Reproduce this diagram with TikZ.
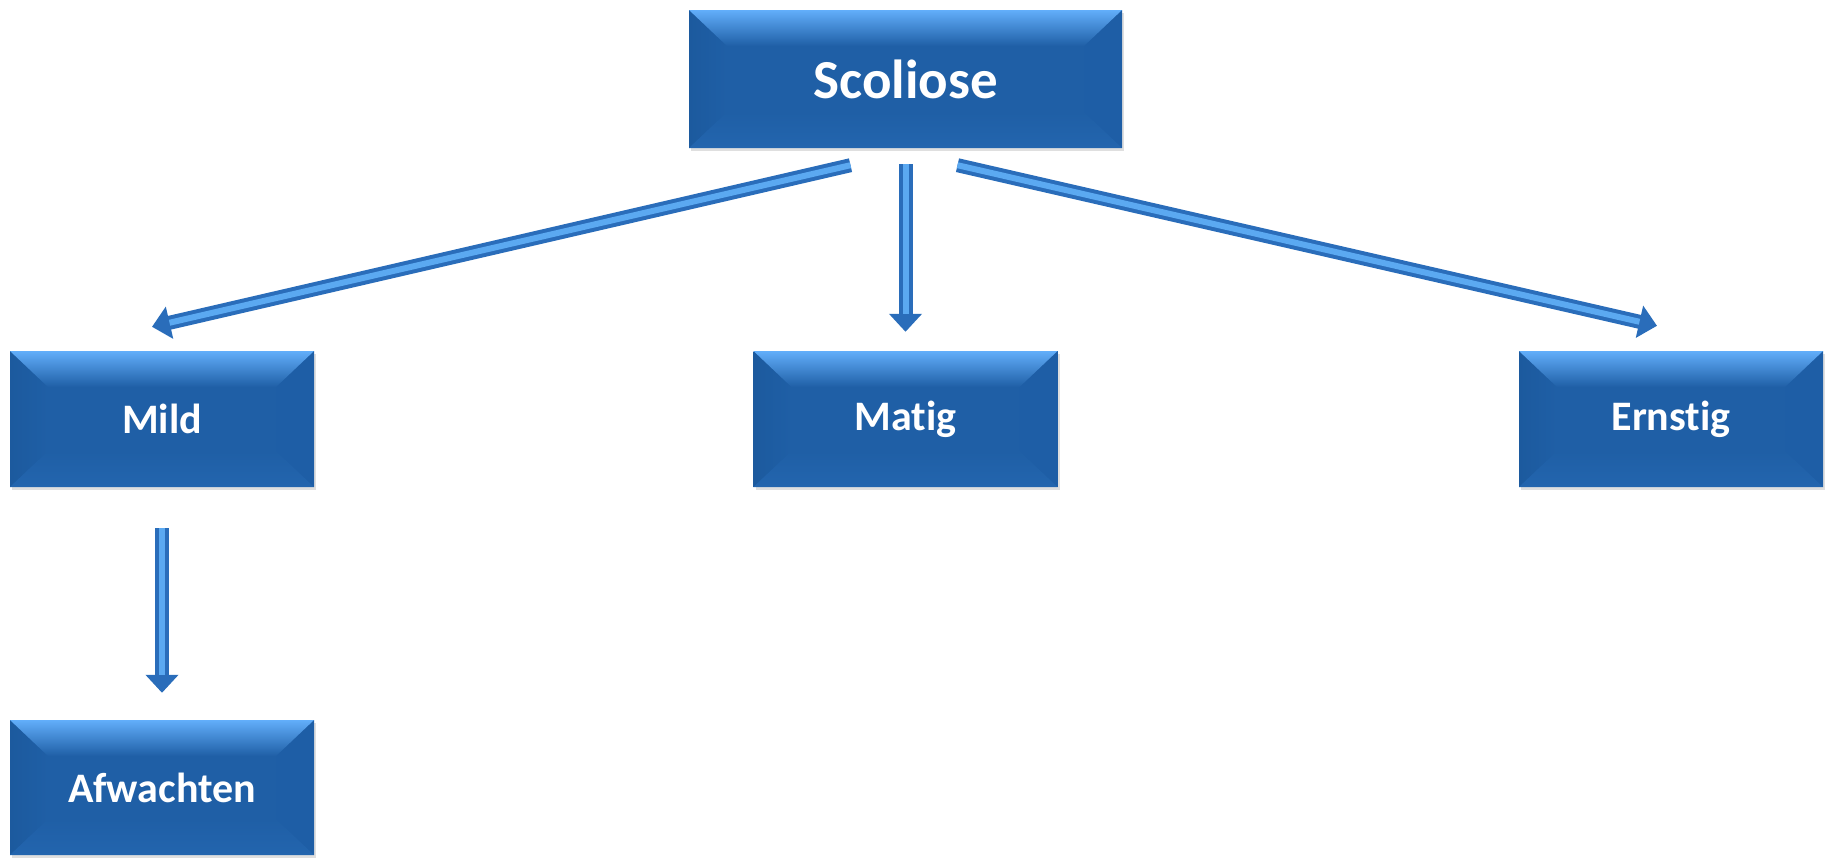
\documentclass[tikz,border=0pt]{standalone}
\usepackage{fontspec}
\setmainfont{Carlito}[RawFeature={-liga}]
\usetikzlibrary{arrows.meta,shadows}
\definecolor{boxblue}{HTML}{1F5FA6}
\definecolor{bevtop}{HTML}{62AEFA}
\definecolor{bevbot}{HTML}{2365AE}
\definecolor{bevleft}{HTML}{1C5A9E}
\definecolor{bevright}{HTML}{1E5EA6}
\definecolor{arrdark}{HTML}{2A6DBA}
\definecolor{arrlight}{HTML}{5BA9F1}
\tikzset{
  bevelbox/.style={rectangle, fill=boxblue, text=white, inner sep=0pt,
    font=\bfseries\fontsize{42}{50}\selectfont,
    minimum width=304pt, minimum height=136pt,
    drop shadow={opacity=0.25, shadow xshift=2pt, shadow yshift=-3pt},
    path picture={
      \coordinate (bnw) at (path picture bounding box.north west);
      \coordinate (bne) at (path picture bounding box.north east);
      \coordinate (bsw) at (path picture bounding box.south west);
      \coordinate (bse) at (path picture bounding box.south east);
      \shade[left color=bevleft, right color=boxblue] (bnw) -- ([shift={(38pt,-36pt)}]bnw) -- ([shift={(38pt,36pt)}]bsw) -- (bsw) -- cycle;
      \fill[bevright] (bne) -- ([shift={(-38pt,-36pt)}]bne) -- ([shift={(-38pt,36pt)}]bse) -- (bse) -- cycle;
      \shade[top color=boxblue, bottom color=bevbot] (bsw) -- ([shift={(38pt,36pt)}]bsw) -- ([shift={(-38pt,36pt)}]bse) -- (bse) -- cycle;
      \shade[top color=bevtop, bottom color=boxblue] (bnw) -- (bne) -- ([shift={(-38pt,-36pt)}]bne) -- ([shift={(38pt,-36pt)}]bnw) -- cycle;
    }},
  fatarrow/.style={draw=arrdark, line width=14pt, -{Triangle[length=18pt,width=32pt]},
    postaction={draw=arrlight, line width=6pt, -, shorten >=18pt}},
}
\begin{document}
\begin{tikzpicture}[x=1pt, y=-1pt]
  \useasboundingbox (0,0) rectangle (1831,857);
  % Boxes
  \node[bevelbox, minimum width=433pt, minimum height=138pt,
        font=\bfseries\fontsize{55}{66}\selectfont] (sc) at (905.5, 79) {Scoliose};
  \node[bevelbox] (mi) at (162, 419) {Mild};
  \node[bevelbox] (ma) at (905.5, 419) {Matig};
  \node[bevelbox] (er) at (1671, 419) {Ernstig};
  \node[bevelbox, minimum height=135pt] (af) at (162, 787.5) {Afwachten};

  % Arrows
  \draw[fatarrow] ([shift={(-55pt,-17pt)}]sc.south) -- ([shift={(-10pt,24pt)}]mi.north);
  \draw[fatarrow] ([yshift=-16pt]sc.south) -- ([yshift=19pt]ma.north);
  \draw[fatarrow] ([shift={(52pt,-17pt)}]sc.south) -- ([shift={(-14pt,25pt)}]er.north);
  \draw[fatarrow] ([yshift=-41pt]mi.south) -- ([yshift=27pt]af.north);
\end{tikzpicture}
\end{document}
